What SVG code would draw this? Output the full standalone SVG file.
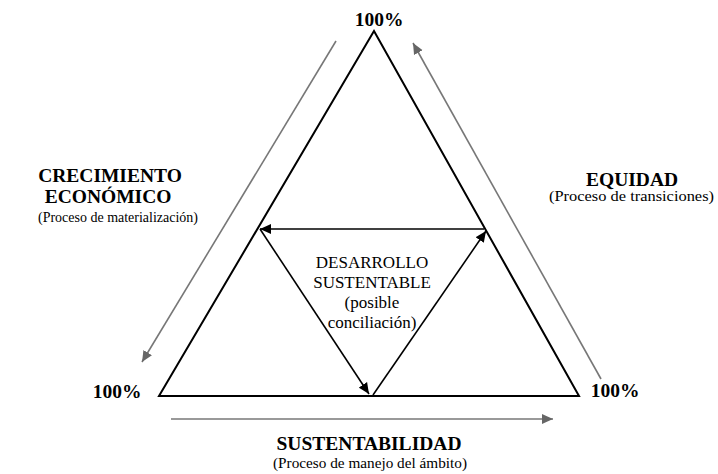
<svg xmlns="http://www.w3.org/2000/svg" width="718" height="474" viewBox="0 0 718 474">
<defs>
<marker id="ab" viewBox="0 0 10 10" refX="10" refY="5" markerWidth="11" markerHeight="11" markerUnits="userSpaceOnUse" orient="auto"><path d="M0,0.5 L10,5 L0,9.5 z" fill="#000"/></marker>
<marker id="ag" viewBox="0 0 10 10" refX="10" refY="5" markerWidth="11" markerHeight="11" markerUnits="userSpaceOnUse" orient="auto"><path d="M0,0.5 L10,5 L0,9.5 z" fill="#666"/></marker>
</defs>
<style>
.t{font-family:"Liberation Serif","DejaVu Serif","Times New Roman",serif;fill:#000;text-anchor:middle}
.b{font-weight:bold;font-size:19.5px}
.s{font-size:15px}
.m{font-size:17px}
.tri{fill:none;stroke:#000;stroke-width:2}
.in{stroke:#000;stroke-width:1.6;fill:none;marker-end:url(#ab)}
.g{stroke:#777;stroke-width:1.6;fill:none;marker-end:url(#ag)}
</style>
<rect width="718" height="474" fill="#fff"/>
<g id="triangle"><path class="tri" d="M374,31 L159,396 L579,396 Z"/></g>
<g id="connectors">
<line class="in" x1="484" y1="229" x2="260" y2="229"/>
<line class="in" x1="260" y1="229" x2="369" y2="394"/>
<line class="in" x1="373" y1="395" x2="486" y2="231"/>
<line class="g" x1="336" y1="41" x2="142" y2="362"/>
<line class="g" x1="601" y1="379" x2="413" y2="43"/>
<line class="g" x1="171" y1="419" x2="553" y2="419"/>
</g>
<g id="top" class="t"><text class="b" x="379" y="26">100%</text></g>
<g id="left" class="t"><text class="b" x="117" y="398">100%</text></g>
<g id="right" class="t"><text class="b" x="615" y="397">100%</text></g>
<g id="crecimiento" class="t">
<text class="b" x="110" y="182">CRECIMIENTO</text>
<text class="b" x="108" y="203">ECONÓMICO</text>
<text class="s" x="118" y="222" textLength="160" lengthAdjust="spacingAndGlyphs">(Proceso de materialización)</text>
</g>
<g id="equidad" class="t">
<text class="b" x="632" y="186">EQUIDAD</text>
<text class="s" x="631.5" y="201" textLength="165" lengthAdjust="spacingAndGlyphs">(Proceso de transiciones)</text>
</g>
<g id="sustentabilidad" class="t">
<text class="b" x="369" y="450">SUSTENTABILIDAD</text>
<text class="s" x="370" y="468" font-size="14" textLength="194" lengthAdjust="spacingAndGlyphs">(Proceso de manejo del ámbito)</text>
</g>
<g id="desarrollo" class="t">
<text class="m" x="372" y="268">DESARROLLO</text>
<text class="m" x="372" y="288">SUSTENTABLE</text>
<text class="m" x="372" y="308">(posible</text>
<text class="m" x="372" y="328">conciliación)</text>
</g>
</svg>
